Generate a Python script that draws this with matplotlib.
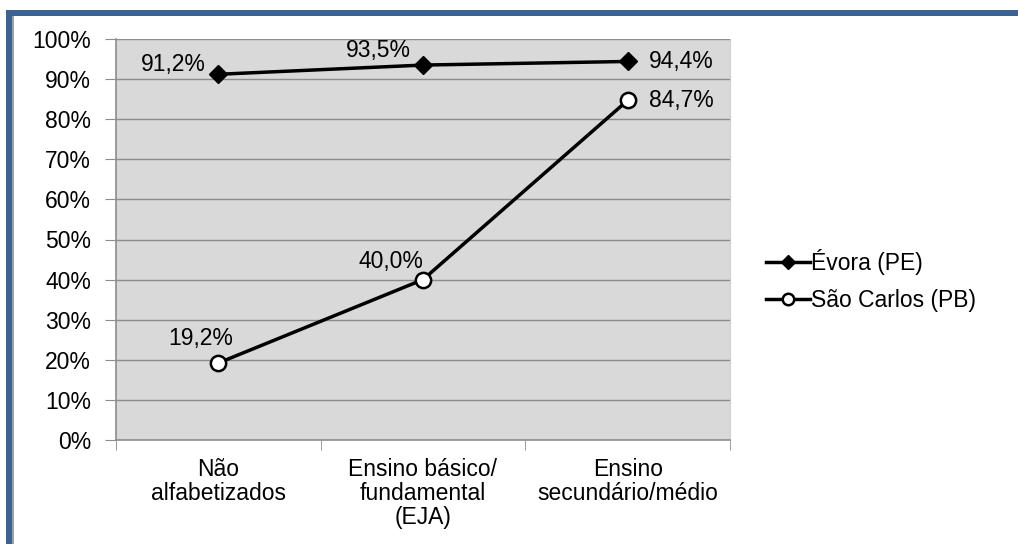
import matplotlib
matplotlib.use('Agg')
import matplotlib.pyplot as plt
from matplotlib.patches import Rectangle

plt.rcParams['font.family'] = ['Liberation Sans', 'DejaVu Sans']

# escolaridade x percentual
categorias = ['Não\nalfabetizados', 'Ensino básico/\nfundamental\n(EJA)', 'Ensino\nsecundário/médio']
evora = [91.2, 93.5, 94.4]
sao_carlos = [19.2, 40.0, 84.7]
rotulos_evora = ['91,2%', '93,5%', '94,4%']
rotulos_sc = ['19,2%', '40,0%', '84,7%']

W, H = 1018, 544
fig = plt.figure(figsize=(W / 100, H / 100), dpi=100)
ax = fig.add_axes([116 / W, (H - 440) / H, 614 / W, 401 / H])

# moldura azul (topo e lado esquerdo)
azul = '#3a6294'
fig.patches.append(Rectangle((6 / W, 0), 6 / W, (H - 10) / H, transform=fig.transFigure,
                             facecolor=azul, edgecolor='none'))
fig.patches.append(Rectangle((6 / W, (H - 16) / H), (W - 6) / W, 6 / H, transform=fig.transFigure,
                             facecolor=azul, edgecolor='none'))
fig.patches.append(Rectangle((12 / W, 0), 2 / W, (H - 16) / H, transform=fig.transFigure,
                             facecolor='#a0a0a0', edgecolor='none'))

ax.set_facecolor('#d9d9d9')
x = range(len(categorias))

ax.plot(x, evora, color='black', lw=2.5, marker='D', ms=9, mfc='black', mec='black',
        label='Évora (PE)', zorder=3)
ax.plot(x, sao_carlos, color='black', lw=2.5, marker='o', ms=11, mfc='white', mec='black',
        mew=1.8, label='São Carlos (PB)', zorder=3)

fs = 16.5
# rótulos de dados
offs_evora = [(-13, 10, 'right'), (-12, 15, 'right'), (21, 0, 'left')]
for i, (v, t) in enumerate(zip(evora, rotulos_evora)):
    dx, dy, ha = offs_evora[i]
    ax.annotate(t, (i, v), xytext=(dx, dy), textcoords='offset pixels',
                ha=ha, va='center', fontsize=fs)
offs_sc = [(-18, 25, 'center'), (0, 18, 'right'), (21, 0, 'left')]
for i, (v, t) in enumerate(zip(sao_carlos, rotulos_sc)):
    dx, dy, ha = offs_sc[i]
    ax.annotate(t, (i, v), xytext=(dx, dy), textcoords='offset pixels',
                ha=ha, va='center', fontsize=fs)

ax.set_xlim(-0.5, 2.5)
ax.set_ylim(0, 100)
ax.set_yticks(range(0, 101, 10))
ax.set_yticklabels([f'{v}%' for v in range(0, 101, 10)], fontsize=fs)
ax.yaxis.grid(True, color='#8c8c8c', lw=1)
ax.set_axisbelow(True)

ax.set_xticks(list(x))
ax.set_xticklabels(categorias, fontsize=fs, linespacing=1.05)
ax.set_xticks([-0.5, 0.5, 1.5, 2.5], minor=True)
ax.tick_params(axis='x', which='major', length=0, pad=13)
ax.tick_params(axis='x', which='minor', length=7, color='#8c8c8c', direction='out')
ax.tick_params(axis='y', length=8, color='#8c8c8c', pad=10)

for s in ['left', 'bottom']:
    ax.spines[s].set_color('#8c8c8c')
    ax.spines[s].set_linewidth(1.2)
ax.spines['top'].set_visible(False)
ax.spines['right'].set_color('#cfcfcf')

fig.legend(loc='upper left', bbox_to_anchor=(757 / W, 1 - 240 / H), frameon=False,
           fontsize=fs, handlelength=1.9, handletextpad=0.05, labelspacing=0.6,
           markerscale=0.75, borderaxespad=0)

fig.savefig('out.png', dpi=100)
